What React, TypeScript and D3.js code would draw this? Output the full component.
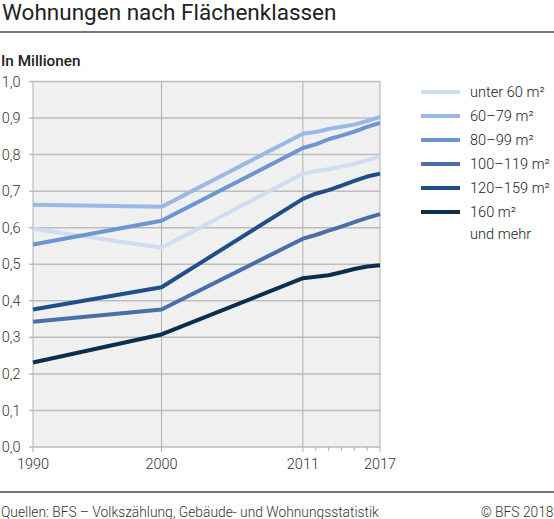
import React, { useRef, useEffect } from 'react';
import * as d3 from 'd3';

const years = [1990, 2000, 2011, 2012, 2013, 2014, 2015, 2016, 2017];

const unter60 = [0.597, 0.545, 0.748, 0.755, 0.76, 0.767, 0.775, 0.785, 0.795];
const m60_79 = [0.663, 0.657, 0.857, 0.862, 0.87, 0.876, 0.882, 0.892, 0.903];
const m80_99 = [0.554, 0.619, 0.818, 0.828, 0.842, 0.852, 0.863, 0.876, 0.887];
const m100_119 = [0.343, 0.376, 0.57, 0.58, 0.592, 0.603, 0.615, 0.627, 0.637];
const m120_159 = [0.376, 0.437, 0.679, 0.693, 0.703, 0.715, 0.728, 0.74, 0.748];
const m160plus = [0.231, 0.308, 0.462, 0.466, 0.47, 0.478, 0.487, 0.494, 0.497];

const seriesNames = ['unter 60 m²', '60–79 m²', '80–99 m²', '100–119 m²', '120–159 m²', '160 m²|und mehr'];
const seriesValues = [unter60, m60_79, m80_99, m100_119, m120_159, m160plus];
const colors = ['#cfdcf2', '#9bb8e4', '#6c95d2', '#4b6ea9', '#1f4e88', '#0c2e4d'];

const yTicks = [0, 0.1, 0.2, 0.3, 0.4, 0.5, 0.6, 0.7, 0.8, 0.9, 1.0];
const xLabels = [1990, 2000, 2011, 2017];
const xGrid = [2000, 2011];
const xMinor = [2012, 2013, 2014, 2015, 2016];

const width = 554;
const height = 519;
const margins = { l: 33, r: 174, t: 81.5, b: 72 };
const font = 'Roboto, sans-serif';

const App = () => {
  const container = useRef(null);

  useEffect(() => {
    const svg = d3.select(container.current);
    svg.selectAll('*').remove();

    const plotwidth = width - margins.l - margins.r;
    const plotheight = height - margins.t - margins.b;

    const xScale = d3.scaleLinear().domain([1990, 2017]).range([margins.l, margins.l + plotwidth]);
    const yScale = d3.scaleLinear().domain([0, 1]).range([margins.t + plotheight, margins.t]);

    // header
    svg.append('text')
      .attr('x', 2).attr('y', 20)
      .attr('font-family', font).attr('font-weight', 400).attr('font-size', 22.5)
      .attr('fill', '#222')
      .text('Wohnungen nach Flächenklassen');
    svg.append('line')
      .attr('x1', 0).attr('x2', width).attr('y1', 32).attr('y2', 32)
      .attr('stroke', '#777').attr('stroke-width', 2);
    svg.append('text')
      .attr('x', 1).attr('y', 65.5)
      .attr('font-family', font).attr('font-weight', 500).attr('font-size', 15.3)
      .attr('fill', '#222')
      .text('In Millionen');

    // plot background
    svg.append('rect')
      .attr('x', xScale(1990)).attr('y', yScale(1))
      .attr('width', plotwidth).attr('height', plotheight)
      .attr('fill', '#f0f0f0');

    const grid = svg.append('g');
    grid.selectAll('.hgrid')
      .data(yTicks)
      .join('line')
      .attr('x1', xScale(1990) - 4).attr('x2', xScale(2017))
      .attr('y1', d => yScale(d)).attr('y2', d => yScale(d))
      .attr('stroke', '#bdbdbd').attr('stroke-width', 1.5);
    grid.selectAll('.vgrid')
      .data([1990, ...xGrid, 2017])
      .join('line')
      .attr('x1', d => xScale(d)).attr('x2', d => xScale(d))
      .attr('y1', yScale(1)).attr('y2', yScale(0) + 5)
      .attr('stroke', '#b0b0b0').attr('stroke-width', 1);
    grid.selectAll('.minor')
      .data(xMinor)
      .join('line')
      .attr('x1', d => xScale(d)).attr('x2', d => xScale(d))
      .attr('y1', yScale(0)).attr('y2', yScale(0) + 4)
      .attr('stroke', '#b0b0b0').attr('stroke-width', 1);

    // tick labels
    svg.selectAll('.ylab')
      .data(yTicks)
      .join('text')
      .attr('x', 20.5).attr('y', d => yScale(d))
      .attr('dy', '0.35em')
      .attr('text-anchor', 'end')
      .attr('font-family', font).attr('font-weight', 300).attr('font-size', 14.5)
      .attr('fill', '#333')
      .text(d => d3.format('.1f')(d).replace('.', ','));
    svg.selectAll('.xlab')
      .data(xLabels)
      .join('text')
      .attr('x', d => xScale(d)).attr('y', yScale(0) + 22)
      .attr('text-anchor', 'middle')
      .attr('font-family', font).attr('font-weight', 300).attr('font-size', 14.5)
      .attr('fill', '#333')
      .text(d => d);

    // lines
    const line = d3.line<number>()
      .x((d, i) => xScale(years[i]))
      .y(d => yScale(d));
    svg.selectAll('.series')
      .data(seriesValues)
      .join('path')
      .attr('d', d => line(d))
      .attr('fill', 'none')
      .attr('stroke', (d, i) => colors[i])
      .attr('stroke-width', 4)
      .attr('stroke-linejoin', 'round');

    // legend
    const legend = svg.selectAll('.legend')
      .data(seriesNames)
      .join('g')
      .attr('transform', (d, i) => `translate(421, ${92 + i * 24})`);
    legend.append('line')
      .attr('x1', 0).attr('x2', 39).attr('y1', 0).attr('y2', 0)
      .attr('stroke', (d, i) => colors[i]).attr('stroke-width', 4);
    legend.each(function (d) {
      const parts = d.split('|');
      const t = d3.select(this).append('text')
        .attr('font-family', font).attr('font-weight', 300).attr('font-size', 14.6)
        .attr('fill', '#222');
      parts.forEach((p, j) => {
        t.append('tspan').attr('x', 49).attr('y', j * 22).attr('dy', '0.35em').text(p);
      });
    });

    // footer
    svg.append('line')
      .attr('x1', 0).attr('x2', width).attr('y1', 492).attr('y2', 492)
      .attr('stroke', '#777').attr('stroke-width', 2);
    svg.append('text')
      .attr('x', 1).attr('y', 517)
      .attr('font-family', font).attr('font-weight', 300).attr('font-size', 13.8)
      .attr('fill', '#333')
      .text('Quellen: BFS – Volkszählung, Gebäude- und Wohnungsstatistik');
    svg.append('text')
      .attr('x', width - 0.5).attr('y', 517)
      .attr('text-anchor', 'end')
      .attr('font-family', font).attr('font-weight', 300).attr('font-size', 13.8)
      .attr('fill', '#333')
      .text('© BFS 2018');
  }, []);

  return (
    <svg ref={container} width={width} height={height}
      style={{ display: 'block', position: 'absolute', left: 0, top: 0 }} />
  );
};

export default App;
